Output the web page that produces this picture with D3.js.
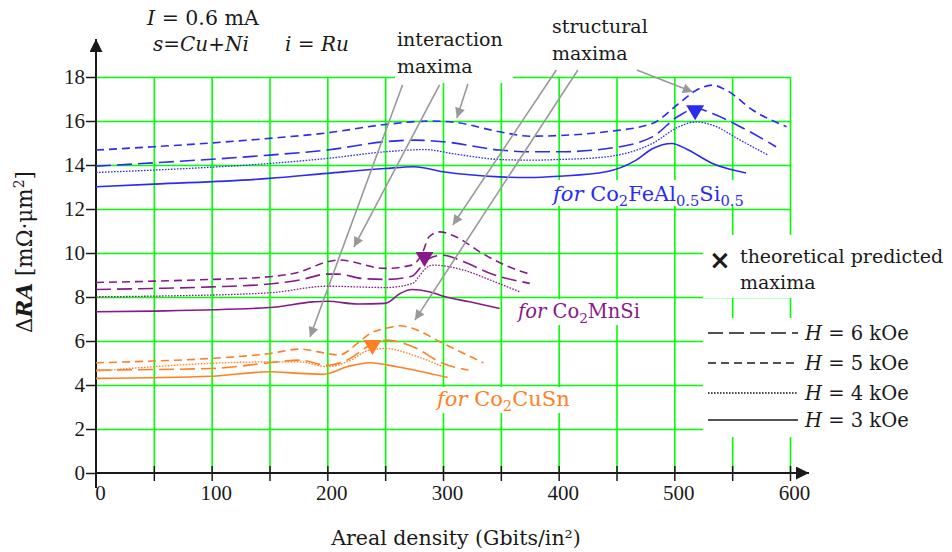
<!DOCTYPE html>
<html>
<head>
<meta charset="utf-8">
<title>Delta RA vs areal density</title>
<script src="https://cdn.jsdelivr.net/npm/d3@7"></script>
<style>
  body { margin: 0; background: #fff; }
  svg text { font-family: "DejaVu Serif", serif; fill: #1a1a1a; font-size: 19px; }
  .tick text { font-family: "Liberation Serif", serif; font-size: 21px; fill: #1a1a1a; }
  .grid line { stroke: #00ff00; stroke-width: 1.6px; }
  .grid path { display: none; }
  .axis path { display: none; }
  .axis line { stroke: #1a1a1a; stroke-width: 1.5px; }
</style>
</head>
<body>
<svg id="chart" width="952" height="552"></svg>
<script>
// ---- data ----
const xTicks = [0, 50, 100, 150, 200, 250, 300, 350, 400, 450, 500, 550, 600];
const xLabels = [0, 100, 200, 300, 400, 500, 600];
const yTicks = [0, 2, 4, 6, 8, 10, 12, 14, 16, 18];
const fields = ["H = 6 kOe", "H = 5 kOe", "H = 4 kOe", "H = 3 kOe"];

// Co2FeAl0.5Si0.5
const feH6 = [[0,13.95],[50,14.1],[150,14.45],[200,14.68],[250,15.06],[275,15.13],[300,15.06],[349,14.68],[375,14.6],[401,14.6],[441,14.74],[481,15.28],[504,16.24],[519,16.57],[533,16.34],[557,15.74],[588,14.83]];
const feH5 = [[0,14.68],[50,14.83],[150,15.21],[200,15.46],[250,15.84],[290,16.0],[310,15.94],[349,15.51],[375,15.31],[401,15.34],[441,15.51],[481,15.89],[504,16.8],[519,17.4],[533,17.63],[545,17.4],[568,16.49],[597,15.74]];
const feH4 = [[0,13.66],[50,13.77],[150,14.07],[200,14.3],[250,14.6],[285,14.7],[308,14.52],[349,14.25],[375,14.22],[401,14.25],[441,14.37],[481,14.98],[504,15.74],[519,15.96],[533,15.81],[557,15.13],[581,14.45]];
const feH3 = [[0,13.01],[50,13.13],[150,13.39],[200,13.62],[250,13.84],[275,13.92],[300,13.69],[349,13.46],[375,13.43],[401,13.49],[441,13.69],[467,14.22],[481,14.74],[498,14.98],[510,14.74],[533,14.07],[562,13.64]];

// Co2MnSi
const mnH6 = [[0,8.34],[50,8.39],[100,8.46],[150,8.59],[176,8.77],[200,9.04],[210,9.04],[230,8.84],[250,8.8],[273,8.94],[281,9.37],[288,9.75],[300,9.9],[318,9.6],[341,9.07],[375,8.62]];
const mnH5 = [[0,8.66],[50,8.72],[100,8.8],[150,8.92],[176,9.14],[200,9.6],[210,9.68],[250,9.3],[273,9.45],[282,9.98],[288,10.74],[297,10.96],[311,10.74],[334,9.98],[357,9.37],[375,9.04]];
const mnH4 = [[0,8.01],[50,8.04],[150,8.19],[200,8.49],[250,8.43],[274,8.62],[279,8.92],[285,9.3],[291,9.45],[318,9.22],[341,8.77],[366,8.24]];
const mnH3 = [[0,7.33],[50,7.36],[150,7.52],[188,7.78],[200,7.81],[226,7.68],[250,7.71],[263,8.16],[273,8.34],[288,8.24],[302,8.01],[323,7.78],[349,7.48]];

// Co2CuSn
const cuH6 = [[0,4.68],[100,4.75],[150,5.01],[176,5.13],[200,4.9],[217,5.13],[237,5.81],[251,6.04],[274,5.74],[300,4.98],[322,4.68]];
const cuH5 = [[0,5.01],[50,5.09],[100,5.21],[150,5.43],[176,5.63],[200,5.43],[210,5.36],[226,5.89],[237,6.34],[250,6.57],[263,6.69],[274,6.57],[300,5.89],[335,5.01]];
const cuH4 = [[0,4.63],[150,5.05],[176,5.05],[200,4.83],[217,5.05],[237,5.59],[251,5.66],[274,5.36],[300,4.83]];
const cuH3 = [[0,4.3],[100,4.4],[150,4.6],[176,4.53],[197,4.49],[217,4.83],[237,5.01],[260,4.83],[304,4.34]];

// theoretical predicted maxima (x, dRA)
const predicted = [[518, 16.4], [284, 9.73], [239, 5.73]];

// ---- layout ----
const svg = d3.select("#chart");
const x = d3.scaleLinear().domain([0, 600]).range([96, 790]);
const y = d3.scaleLinear().domain([0, 18]).range([473, 77]);

const colors = { fe: "#2b2bf2", mn: "#861a8a", cu: "#ff7f24" };
const dashes = { "H = 6 kOe": "15,6", "H = 5 kOe": "8,5", "H = 4 kOe": "1.6,1.4", "H = 3 kOe": null };

const series = [
  { mat: "fe", field: fields[0], values: feH6 }, { mat: "fe", field: fields[1], values: feH5 },
  { mat: "fe", field: fields[2], values: feH4 }, { mat: "fe", field: fields[3], values: feH3 },
  { mat: "mn", field: fields[0], values: mnH6 }, { mat: "mn", field: fields[1], values: mnH5 },
  { mat: "mn", field: fields[2], values: mnH4 }, { mat: "mn", field: fields[3], values: mnH3 },
  { mat: "cu", field: fields[0], values: cuH6 }, { mat: "cu", field: fields[1], values: cuH5 },
  { mat: "cu", field: fields[2], values: cuH4 }, { mat: "cu", field: fields[3], values: cuH3 }
];

const defs = svg.append("defs");
defs.append("marker").attr("id", "grayhead")
    .attr("viewBox", "0 0 10 10").attr("refX", 10).attr("refY", 5)
    .attr("markerWidth", 13).attr("markerHeight", 10).attr("markerUnits", "userSpaceOnUse")
    .attr("orient", "auto")
  .append("path").attr("d", "M0,0 L10,5 L0,10 Z").attr("fill", "#999");
defs.append("marker").attr("id", "blackhead")
    .attr("viewBox", "0 0 10 10").attr("refX", 10).attr("refY", 5)
    .attr("markerWidth", 14).attr("markerHeight", 13).attr("markerUnits", "userSpaceOnUse")
    .attr("orient", "auto")
  .append("path").attr("d", "M0,0 L10,5 L0,10 Z").attr("fill", "#1a1a1a");

// gridlines
svg.append("g").attr("class", "grid")
   .attr("transform", `translate(0,${y(0)})`)
   .call(d3.axisBottom(x).tickValues(xTicks.slice(1)).tickSize(-(y(0) - y(18))).tickFormat(""));
svg.append("g").attr("class", "grid")
   .attr("transform", `translate(${x(0)},0)`)
   .call(d3.axisLeft(y).tickValues(yTicks.slice(1)).tickSize(-(x(600) - x(0))).tickFormat(""));

// white panels behind the annotation texts
const panels = [[395, 58, 118, 25], [550, 180, 200, 26], [514, 299, 132, 26], [434, 387, 158, 26], [703, 235, 249, 63], [703, 318, 249, 119]];
svg.append("g").selectAll("rect").data(panels).join("rect")
   .attr("x", d => d[0]).attr("y", d => d[1]).attr("width", d => d[2]).attr("height", d => d[3])
   .attr("fill", "#fff");

// axes
const xAxis = svg.append("g").attr("class", "axis")
   .attr("transform", `translate(0,${y(0)})`)
   .call(d3.axisBottom(x).tickValues(xTicks).tickSize(8)
         .tickFormat(d => xLabels.includes(d) ? d : ""));
xAxis.selectAll(".tick line").attr("y1", -7);
xAxis.selectAll(".tick text").attr("y", 12).attr("dx", 4);
xAxis.select(".tick line").remove();

const yAxis = svg.append("g").attr("class", "axis")
   .attr("transform", `translate(${x(0)},0)`)
   .call(d3.axisLeft(y).tickValues(yTicks).tickSize(10).tickPadding(1));

svg.append("line").attr("x1", x(0)).attr("x2", x(0)).attr("y1", y(0) + 15).attr("y2", 39)
   .attr("stroke", "#1a1a1a").attr("stroke-width", 2).attr("marker-end", "url(#blackhead)");
svg.append("line").attr("x1", x(0)).attr("x2", 809).attr("y1", y(0)).attr("y2", y(0))
   .attr("stroke", "#1a1a1a").attr("stroke-width", 2).attr("marker-end", "url(#blackhead)");

// curves
const line = d3.line().x(d => x(d[0])).y(d => y(d[1])).curve(d3.curveMonotoneX);
svg.append("g").selectAll("path").data(series).join("path")
   .attr("d", d => line(d.values))
   .attr("fill", "none")
   .attr("stroke", d => colors[d.mat])
   .attr("stroke-width", d => d.field === fields[2] ? 1.3 : 1.6)
   .attr("stroke-dasharray", d => dashes[d.field]);

// predicted maxima markers
const predColors = [colors.fe, colors.mn, colors.cu];
svg.append("g").selectAll("path").data(predicted).join("path")
   .attr("transform", d => `translate(${x(d[0])},${y(d[1])})`)
   .attr("d", "M-9,-7 L9,-7 L0,8 Z")
   .attr("fill", (d, i) => predColors[i]);

// gray annotation arrows (data units)
const arrows = [
  [[265, 17.64], [185, 6.18]], [[297, 17.64], [223, 10.27]], [[321.5, 17.68], [312, 16.14]],
  [[398, 18.32], [308.5, 11.27]], [[416.6, 18.32], [275.7, 6.95]], [[467.6, 18.32], [516, 17.32]]
];
svg.append("g").selectAll("line").data(arrows).join("line")
   .attr("x1", d => x(d[0][0])).attr("y1", d => y(d[0][1]))
   .attr("x2", d => x(d[1][0])).attr("y2", d => y(d[1][1]))
   .attr("stroke", "#999").attr("stroke-width", 1.6)
   .attr("marker-end", "url(#grayhead)");

// rich text helper: parts [text, style]
function rich(g, px, py, parts, opts = {}) {
  const t = g.append("text").attr("x", px).attr("y", py);
  if (opts.fill) t.style("fill", opts.fill);
  if (opts.size) t.style("font-size", opts.size + "px");
  if (opts.anchor) t.attr("text-anchor", opts.anchor);
  if (opts.transform) t.attr("transform", opts.transform);
  let shift = 0;
  parts.forEach(([s, st]) => {
    const sp = t.append("tspan").text(s);
    let want = 0;
    if (st === "i") sp.style("font-style", "italic");
    if (st === "bi") sp.style("font-style", "italic").style("font-weight", "bold");
    if (st === "sub") { want = 5; sp.style("font-size", "0.7em"); }
    if (st === "sup") { want = -8; sp.style("font-size", "0.65em"); }
    if (want !== shift) { sp.attr("dy", want - shift); shift = want; }
  });
  return t;
}

const ann = svg.append("g");
rich(ann, 147, 25, [["I", "i"], [" = 0.6 mA"]], { size: 20.5 });
rich(ann, 153, 51, [["s", "i"], ["="], ["Cu", "i"], ["+"], ["Ni", "i"]], { size: 20 });
rich(ann, 285, 51, [["i", "i"], [" = "], ["Ru", "i"]], { size: 20 });
rich(ann, 397, 46, [["interaction"]]);
rich(ann, 397, 73, [["maxima"]]);
rich(ann, 552, 33, [["structural"]]);
rich(ann, 552, 60, [["maxima"]]);

rich(ann, 553, 201, [["for ", "i"], ["Co"], ["2", "sub"], ["FeAl"], ["0.5", "sub"], ["Si"], ["0.5", "sub"]], { fill: colors.fe, size: 21 });
rich(ann, 518, 318, [["for ", "i"], ["Co"], ["2", "sub"], ["MnSi"]], { fill: colors.mn, size: 19.5 });
rich(ann, 437, 406, [["for ", "i"], ["Co"], ["2", "sub"], ["CuSn"]], { fill: colors.cu, size: 21 });

// axis titles
rich(ann, 0, 0, [["\u0394"], ["RA", "bi"], [" [m\u03a9\u00b7\u03bcm"], ["2", "sup"], ["]"]],
     { anchor: "middle", transform: "translate(32,252) rotate(-90)", size: 21.5 });
rich(ann, 456, 545, [["Areal density (Gbits/in\u00b2)"]], { anchor: "middle", size: 20.5 });

// legend
const leg = svg.append("g");
leg.append("text").attr("x", 720).attr("y", 269).attr("text-anchor", "middle")
   .style("font-size", "26px").style("font-weight", "bold").style("font-family", "DejaVu Sans, sans-serif")
   .text("\u00d7");
rich(leg, 740, 263, [["theoretical predicted"]]);
rich(leg, 740, 289, [["maxima"]]);

const legY = [333, 363, 393, 420];
fields.forEach((f, i) => {
  leg.append("line").attr("x1", 708).attr("x2", 798).attr("y1", legY[i]).attr("y2", legY[i])
     .attr("stroke", "#1a1a1a").attr("stroke-width", i === 2 ? 1.3 : 1.6)
     .attr("stroke-dasharray", dashes[f]);
  rich(leg, 805, legY[i] + 7, [["H", "i"], [f.slice(1)]], { size: 19.5 });
});
</script>
</body>
</html>
